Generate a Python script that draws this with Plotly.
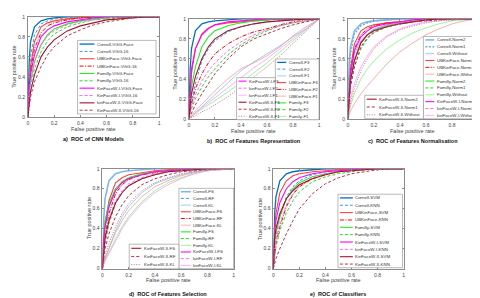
import plotly.graph_objects as go

W, H = 480, 298

FPR = [0, 0.01, 0.02, 0.05, 0.1, 0.15, 0.2, 0.3, 0.4, 0.5, 0.6, 0.7, 0.8, 0.9, 1.0]
TICKS = [0, 0.2, 0.4, 0.6, 0.8, 1]
TICK_LABELS = ["0", "0.2", "0.4", "0.6", "0.8", "1"]

# ---------------- a) ROC of CNN Models ----------------
A_NAMES = ["Cornell-VGG-Face", "Cornell-VGG-16", "UBKinFace-VGG-Face", "UBKinFace-VGG-16",
           "Familly-VGG-Face", "Familly-VGG-16", "KinFaceW-I-VGG-Face", "KinFaceW-I-VGG-16",
           "kinFaceW-II-VGG-Face", "KinFaceW-II-VGG-16"]
A_TPR = [
    [0, 0.55, 0.75, 0.90, 0.96, 0.98, 0.99, 1.00, 1, 1, 1, 1, 1, 1, 1],
    [0, 0.40, 0.60, 0.82, 0.93, 0.96, 0.98, 0.99, 1, 1, 1, 1, 1, 1, 1],
    [0, 0.35, 0.50, 0.75, 0.90, 0.94, 0.96, 0.98, 0.99, 1, 1, 1, 1, 1, 1],
    [0, 0.30, 0.45, 0.68, 0.84, 0.91, 0.94, 0.97, 0.99, 1, 1, 1, 1, 1, 1],
    [0, 0.25, 0.35, 0.55, 0.72, 0.82, 0.88, 0.93, 0.96, 0.98, 0.99, 1, 1, 1, 1],
    [0, 0.20, 0.30, 0.48, 0.65, 0.76, 0.83, 0.90, 0.94, 0.97, 0.98, 0.99, 1, 1, 1],
    [0, 0.30, 0.42, 0.62, 0.80, 0.87, 0.91, 0.95, 0.97, 0.99, 1, 1, 1, 1, 1],
    [0, 0.22, 0.35, 0.55, 0.72, 0.81, 0.86, 0.92, 0.95, 0.97, 0.99, 1, 1, 1, 1],
    [0, 0.15, 0.25, 0.42, 0.60, 0.70, 0.77, 0.86, 0.91, 0.94, 0.97, 0.98, 0.99, 1, 1],
    [0, 0.12, 0.20, 0.35, 0.50, 0.62, 0.70, 0.81, 0.87, 0.92, 0.95, 0.97, 0.99, 1, 1],
]
A_STYLE = ["C0", "C1", "U0", "U1", "F0", "F1", "I0", "I1", "K0", "K1"]

# ---------------- b) ROC of Features Representation ----------------
B_NAMES = ["Cornell-F3", "Cornell-F2", "Cornell-F1", "UBKinFace-F3", "UBKinFace-F2", "UBKinFace-F1",
           "Family-F3", "Family-F2", "Family-F1", "KinFaceW-I-F3", "kinFaceW-I-F2", "kinFaceW-I-F1",
           "KinFaceW-II-F3", "KinFaceW-II-F2", "KinFaceW-II-F1"]
B_TPR = [
    [0, 0.50, 0.70, 0.88, 0.95, 0.97, 0.98, 0.99, 1, 1, 1, 1, 1, 1, 1],
    [0, 0.10, 0.18, 0.35, 0.58, 0.70, 0.78, 0.87, 0.92, 0.95, 0.97, 0.98, 0.99, 1, 1],
    [0, 0.01, 0.02, 0.06, 0.12, 0.18, 0.25, 0.37, 0.48, 0.57, 0.65, 0.73, 0.82, 0.90, 1],
    [0, 0.30, 0.45, 0.70, 0.85, 0.91, 0.94, 0.96, 0.97, 0.98, 0.99, 1, 1, 1, 1],
    [0, 0.08, 0.15, 0.30, 0.45, 0.56, 0.65, 0.75, 0.82, 0.87, 0.90, 0.94, 0.97, 0.99, 1],
    [0, 0.02, 0.04, 0.08, 0.15, 0.22, 0.28, 0.40, 0.50, 0.56, 0.63, 0.72, 0.83, 0.92, 1],
    [0, 0.20, 0.32, 0.52, 0.72, 0.82, 0.88, 0.93, 0.96, 0.98, 0.99, 1, 1, 1, 1],
    [0, 0.05, 0.10, 0.20, 0.32, 0.42, 0.50, 0.64, 0.74, 0.82, 0.88, 0.93, 0.96, 0.98, 1],
    [0, 0.01, 0.02, 0.05, 0.10, 0.14, 0.18, 0.27, 0.36, 0.46, 0.56, 0.67, 0.78, 0.89, 1],
    [0, 0.35, 0.50, 0.70, 0.84, 0.90, 0.94, 0.97, 0.98, 0.99, 1, 1, 1, 1, 1],
    [0, 0.06, 0.12, 0.24, 0.38, 0.48, 0.56, 0.68, 0.77, 0.84, 0.89, 0.93, 0.96, 0.98, 1],
    [0, 0.01, 0.03, 0.06, 0.11, 0.16, 0.21, 0.31, 0.41, 0.51, 0.60, 0.70, 0.80, 0.90, 1],
    [0, 0.15, 0.25, 0.42, 0.60, 0.72, 0.80, 0.88, 0.92, 0.95, 0.97, 0.98, 0.99, 1, 1],
    [0, 0.03, 0.06, 0.14, 0.25, 0.35, 0.45, 0.60, 0.72, 0.80, 0.85, 0.90, 0.94, 0.97, 1],
    [0, 0.005, 0.01, 0.03, 0.07, 0.10, 0.14, 0.22, 0.32, 0.42, 0.52, 0.63, 0.75, 0.87, 1],
]
B_STYLE = ["C0", "C1", "C2", "U0", "U1", "U2", "F0", "F1", "F2", "I0", "I1", "I2", "K0", "K1", "K2"]

# ---------------- c) ROC of Features Normalisation ----------------
C_NAMES = ["Cornell-Norm2", "Cornell-Norm1", "Cornell-Without", "UBKinFace-Norm2", "UBKinFace-Norm1",
           "UBKinFace-Without", "Familly-Norm2", "Familly-Norm1", "Familly-Without", "KinFaceW-I-Norm2",
           "kinFaceW-I-Norm1", "kinFaceW-I-Without", "KinFaceW-II-Norm2", "KinFaceW-II-Norm1",
           "KinFaceW-II-Without"]
C_TPR = [
    [0, 0.55, 0.72, 0.88, 0.95, 0.97, 0.98, 0.99, 1, 1, 1, 1, 1, 1, 1],
    [0, 0.45, 0.65, 0.85, 0.93, 0.96, 0.98, 0.99, 1, 1, 1, 1, 1, 1, 1],
    [0, 0.30, 0.45, 0.65, 0.78, 0.85, 0.90, 0.94, 0.97, 0.99, 1, 1, 1, 1, 1],
    [0, 0.35, 0.50, 0.75, 0.88, 0.92, 0.94, 0.96, 0.97, 0.98, 0.99, 1, 1, 1, 1],
    [0, 0.30, 0.45, 0.70, 0.84, 0.90, 0.93, 0.96, 0.97, 0.98, 0.99, 1, 1, 1, 1],
    [0, 0.05, 0.08, 0.15, 0.25, 0.33, 0.40, 0.55, 0.67, 0.76, 0.84, 0.90, 0.95, 0.98, 1],
    [0, 0.25, 0.38, 0.58, 0.76, 0.84, 0.89, 0.93, 0.96, 0.98, 0.99, 1, 1, 1, 1],
    [0, 0.20, 0.32, 0.52, 0.70, 0.80, 0.86, 0.92, 0.95, 0.97, 0.99, 1, 1, 1, 1],
    [0, 0.08, 0.13, 0.25, 0.40, 0.50, 0.58, 0.70, 0.79, 0.86, 0.91, 0.95, 0.98, 0.99, 1],
    [0, 0.30, 0.45, 0.68, 0.82, 0.88, 0.92, 0.95, 0.97, 0.99, 1, 1, 1, 1, 1],
    [0, 0.25, 0.38, 0.60, 0.77, 0.84, 0.89, 0.94, 0.96, 0.98, 0.99, 1, 1, 1, 1],
    [0, 0.12, 0.20, 0.35, 0.52, 0.63, 0.72, 0.83, 0.90, 0.94, 0.97, 0.98, 0.99, 1, 1],
    [0, 0.25, 0.38, 0.58, 0.76, 0.84, 0.88, 0.92, 0.95, 0.97, 0.99, 1, 1, 1, 1],
    [0, 0.20, 0.32, 0.52, 0.72, 0.81, 0.87, 0.92, 0.95, 0.97, 0.98, 0.99, 1, 1, 1],
    [0, 0.10, 0.16, 0.30, 0.48, 0.60, 0.70, 0.82, 0.89, 0.93, 0.96, 0.98, 0.99, 1, 1],
]
C_STYLE = ["L0", "L1", "L2", "U0", "U1", "U2", "F0", "F1", "F2", "I0", "I1", "I2", "K0", "K1", "K2"]

# ---------------- d) ROC of Features Selection ----------------
D_NAMES = ["Cornell-FS", "Cornell-RF", "Cornell-KL", "UBKinFace-FS", "UBKinFace-RF", "UBKinFace-KL",
           "Familly-FS", "Familly-RF", "Familly-KL", "KinFaceW-I-FS", "kinFaceW-I-RF", "kinFaceW-I-KL",
           "KinFaceW-II-FS", "KinFaceW-II-RF", "KinFaceW-II-KL"]
D_TPR = [
    [0, 0.50, 0.70, 0.88, 0.95, 0.97, 0.98, 0.99, 1, 1, 1, 1, 1, 1, 1],
    [0, 0.25, 0.40, 0.62, 0.80, 0.87, 0.91, 0.95, 0.97, 0.98, 0.99, 1, 1, 1, 1],
    [0, 0.05, 0.10, 0.20, 0.38, 0.52, 0.62, 0.76, 0.85, 0.90, 0.94, 0.97, 0.99, 1, 1],
    [0, 0.30, 0.45, 0.68, 0.86, 0.91, 0.94, 0.96, 0.98, 0.99, 1, 1, 1, 1, 1],
    [0, 0.20, 0.32, 0.55, 0.75, 0.84, 0.89, 0.94, 0.96, 0.98, 0.99, 1, 1, 1, 1],
    [0, 0.05, 0.10, 0.20, 0.36, 0.48, 0.58, 0.72, 0.82, 0.88, 0.93, 0.96, 0.98, 0.99, 1],
    [0, 0.35, 0.48, 0.65, 0.80, 0.87, 0.91, 0.95, 0.97, 0.98, 0.99, 1, 1, 1, 1],
    [0, 0.15, 0.25, 0.45, 0.65, 0.76, 0.83, 0.90, 0.94, 0.97, 0.98, 0.99, 1, 1, 1],
    [0, 0.05, 0.08, 0.16, 0.30, 0.42, 0.52, 0.67, 0.78, 0.86, 0.91, 0.95, 0.98, 0.99, 1],
    [0, 0.30, 0.42, 0.62, 0.78, 0.86, 0.90, 0.94, 0.97, 0.98, 0.99, 1, 1, 1, 1],
    [0, 0.20, 0.30, 0.50, 0.68, 0.78, 0.85, 0.91, 0.95, 0.97, 0.98, 0.99, 1, 1, 1],
    [0, 0.05, 0.08, 0.15, 0.28, 0.40, 0.50, 0.65, 0.76, 0.84, 0.90, 0.95, 0.98, 0.99, 1],
    [0, 0.20, 0.30, 0.48, 0.66, 0.76, 0.83, 0.90, 0.94, 0.97, 0.98, 0.99, 1, 1, 1],
    [0, 0.12, 0.20, 0.35, 0.52, 0.64, 0.73, 0.84, 0.90, 0.94, 0.97, 0.98, 0.99, 1, 1],
    [0, 0.08, 0.13, 0.25, 0.42, 0.55, 0.65, 0.78, 0.86, 0.91, 0.95, 0.97, 0.99, 1, 1],
]
D_STYLE = ["L0", "C1", "C2", "U0", "U1", "U2", "F0", "F1", "F2", "I0", "I1", "I2", "K0", "K1", "K2"]

# ---------------- e) ROC of Classifiers ----------------
E_NAMES = ["Cornell-SVM", "Cornell-KNN", "UBKinFace-SVM", "UBKinFace-KNN", "Familly-SVM", "Familly-KNN",
           "KinFaceW-I-SVM", "kinFaceW-I-KNN", "KinFaceW-II-SVM", "KinFaceW-II-KNN"]
E_TPR = [
    [0, 0.55, 0.72, 0.88, 0.95, 0.97, 0.98, 0.99, 1, 1, 1, 1, 1, 1, 1],
    [0, 0.20, 0.32, 0.52, 0.72, 0.82, 0.88, 0.94, 0.97, 0.98, 0.99, 1, 1, 1, 1],
    [0, 0.40, 0.55, 0.76, 0.88, 0.93, 0.95, 0.97, 0.98, 0.99, 1, 1, 1, 1, 1],
    [0, 0.15, 0.25, 0.42, 0.62, 0.74, 0.82, 0.90, 0.94, 0.97, 0.98, 0.99, 1, 1, 1],
    [0, 0.25, 0.35, 0.52, 0.70, 0.80, 0.86, 0.92, 0.95, 0.97, 0.99, 1, 1, 1, 1],
    [0, 0.15, 0.22, 0.38, 0.56, 0.68, 0.77, 0.87, 0.92, 0.95, 0.97, 0.99, 1, 1, 1],
    [0, 0.35, 0.48, 0.66, 0.80, 0.87, 0.91, 0.95, 0.97, 0.98, 0.99, 1, 1, 1, 1],
    [0, 0.18, 0.28, 0.45, 0.64, 0.75, 0.83, 0.91, 0.95, 0.97, 0.98, 0.99, 1, 1, 1],
    [0, 0.30, 0.40, 0.55, 0.70, 0.78, 0.84, 0.90, 0.94, 0.97, 0.98, 0.99, 1, 1, 1],
    [0, 0.05, 0.10, 0.20, 0.35, 0.48, 0.60, 0.75, 0.85, 0.91, 0.95, 0.97, 0.99, 1, 1],
]
E_STYLE = ["C0", "C1", "U0", "U1", "F0", "F1", "I0", "I1", "K0", "K1"]

# ---------------- styles ----------------
STY = {
    "C0": ("#0072BD", "solid", 1.3), "C1": ("#3D9BE3", "3px,2px", 1.0), "C2": ("#86BFEA", "solid", 0.8),
    "L0": ("#7DB9E8", "solid", 1.6), "L1": ("#6AB0E6", "2px,1.5px", 1.4), "L2": ("#86BFEA", "solid", 0.8),
    "U0": ("#FF4040", "solid", 1.1), "U1": ("#FF0000", "4px,1.5px,1px,1.5px", 1.0), "U2": ("#F89A9A", "solid", 0.8),
    "F0": ("#22EE22", "solid", 1.1), "F1": ("#22DD22", "3px,2px", 1.0), "F2": ("#7DF57D", "solid", 0.8),
    "I0": ("#FF00FF", "solid", 1.1), "I1": ("#FF66FF", "3px,2px", 1.0), "I2": ("#FF99FF", "solid", 0.8),
    "K0": ("#A2142F", "solid", 1.1), "K1": ("#B5334F", "3px,2px", 1.0), "K2": ("#C0607A", "1px,1.5px", 0.9),
}

# panel placement in pixels: (x0, x1, ytop, ybottom)
PANELS = [
    ("a)  ROC of CNN Models", A_NAMES, A_TPR, A_STYLE, (19, 151, 6, 108)),
    ("b)  ROC of Features Representation", B_NAMES, B_TPR, B_STYLE, (181, 312, 8, 110)),
    ("c)  ROC of Features Normalisation", C_NAMES, C_TPR, C_STYLE, (341, 472, 8, 110)),
    ("d)  ROC of Features Selection", D_NAMES, D_TPR, D_STYLE, (94, 226, 161, 263)),
    ("e)  ROC of Classifiers", E_NAMES, E_TPR, E_STYLE, (266, 397, 161, 263)),
]
TITLE_Y = [131, 133, 133, 289, 289]

# legend boxes: (panel index, first series, last series(excl), x0, x1, ytop, ybottom, line length)
LEGENDS = [
    (0, 0, 10, 69, 148, 30, 105, 15),
    (1, 0, 9, 268, 312, 49, 111, 9),
    (1, 9, 15, 229, 268, 68, 111, 8),
    (2, 0, 12, 417, 472, 26, 110, 9),
    (2, 12, 15, 358, 417, 86, 110, 10),
    (3, 0, 12, 171, 226, 181, 263, 10),
    (3, 12, 15, 121, 171, 238, 263, 10),
    (4, 0, 10, 331, 396, 187, 262, 13),
]

FONT = "Liberation Sans, Arial, sans-serif"


def px(x):
    return x / W


def py(y):
    return 1 - y / H


fig = go.Figure()
shapes = []
annotations = []

for i, (title, names, tprs, styles, (x0, x1, yt, yb)) in enumerate(PANELS):
    k = "" if i == 0 else str(i + 1)
    for name, tpr, s in zip(names, tprs, styles):
        col, dash, wid = STY[s]
        fig.add_trace(go.Scatter(x=FPR, y=tpr, mode="lines", name=name, showlegend=False,
                                 line=dict(color=col, dash=dash, width=wid),
                                 xaxis="x" + k, yaxis="y" + k, hoverinfo="skip"))
    ax = dict(range=[0, 1], showline=True, mirror="ticks", linecolor="#8c8c8c", linewidth=0.7,
              ticks="inside", ticklen=2, tickcolor="#8c8c8c", tickwidth=0.6,
              tickvals=TICKS, ticktext=TICK_LABELS, showgrid=False, zeroline=False,
              tickfont=dict(size=5, color="#444", family=FONT))
    fig.layout["xaxis" + k] = dict(ax, domain=[px(x0), px(x1)], anchor="y" + k, ticklabelstandoff=1)
    fig.layout["yaxis" + k] = dict(ax, domain=[py(yb), py(yt)], anchor="x" + k, ticklabelstandoff=1)
    annotations.append(dict(text="False positive rate", x=px((x0 + x1) / 2), y=py(yb + 12),
                            xref="paper", yref="paper", showarrow=False, xanchor="center", yanchor="middle",
                            font=dict(size=5.5, color="#444", family=FONT)))
    annotations.append(dict(text="True positive rate", x=px(x0 - 14), y=py((yt + yb) / 2),
                            xref="paper", yref="paper", showarrow=False, xanchor="center", yanchor="middle",
                            textangle=-90, font=dict(size=5.5, color="#444", family=FONT)))
    annotations.append(dict(text="<b>" + title + "</b>", x=px((x0 + x1) / 2), y=py(TITLE_Y[i]),
                            xref="paper", yref="paper", showarrow=False, xanchor="center", yanchor="middle",
                            font=dict(size=5.5, color="#111", family=FONT)))

for (pi, s0, s1, lx0, lx1, lyt, lyb, llen) in LEGENDS:
    names, styles = PANELS[pi][1], PANELS[pi][3]
    shapes.append(dict(type="rect", xref="paper", yref="paper", x0=px(lx0), x1=px(lx1),
                       y0=py(lyb), y1=py(lyt), fillcolor="white", line=dict(color="#8c8c8c", width=0.6)))
    n = s1 - s0
    step = (lyb - lyt) / n
    for j in range(n):
        yc = lyt + step * (j + 0.5)
        col, dash, wid = STY[styles[s0 + j]]
        shapes.append(dict(type="line", xref="paper", yref="paper", x0=px(lx0 + 2), x1=px(lx0 + 2 + llen),
                           y0=py(yc), y1=py(yc), line=dict(color=col, dash=dash, width=wid)))
        annotations.append(dict(text=names[s0 + j], x=px(lx0 + 2.5 + llen), y=py(yc), xref="paper", yref="paper",
                                showarrow=False, xanchor="left", yanchor="middle",
                                font=dict(size=4.4, color="#333", family=FONT)))

fig.update_layout(width=W, height=H, margin=dict(l=0, r=0, t=0, b=0), paper_bgcolor="white",
                  plot_bgcolor="white", showlegend=False, shapes=shapes, annotations=annotations)

fig.write_html("out.html")
